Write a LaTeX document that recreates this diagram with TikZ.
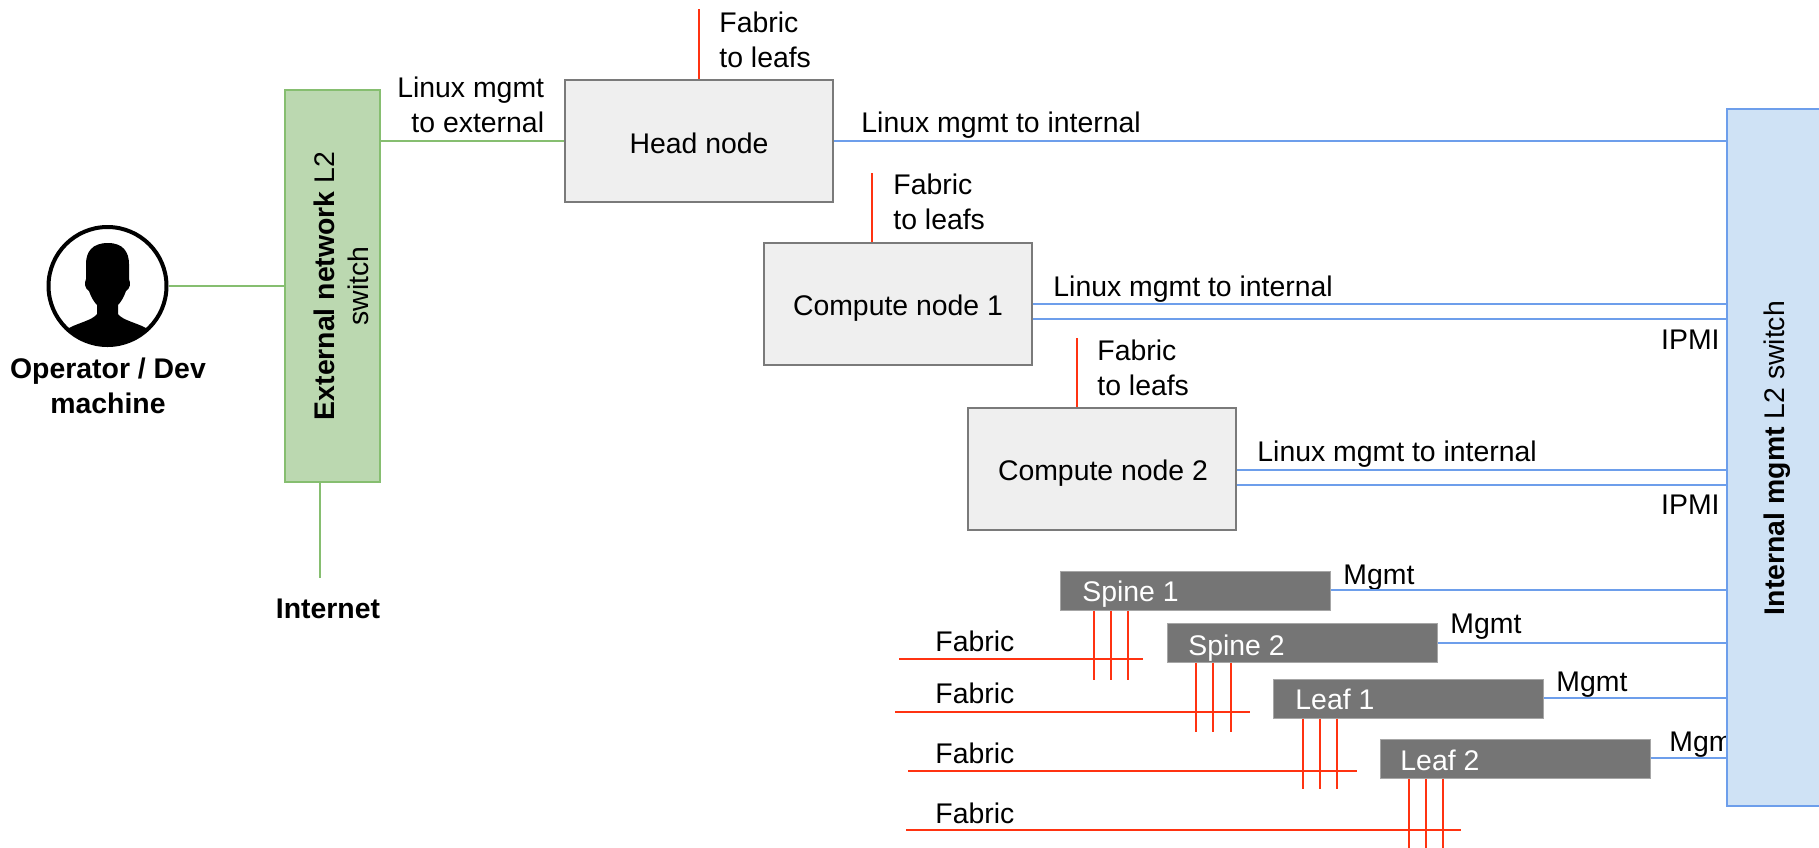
\documentclass[tikz,border=0pt]{standalone}
\usepackage{fontspec}
\setmainfont{Liberation Sans}
\definecolor{gline}{HTML}{86BE70}
\definecolor{gfill}{HTML}{BBD8B0}
\definecolor{bline}{HTML}{6D9EEB}
\definecolor{bfill}{HTML}{CFE2F5}
\definecolor{rline}{HTML}{FF3311}
\definecolor{nfill}{HTML}{EFEFEF}
\definecolor{nline}{HTML}{7A7A7A}
\definecolor{dfill}{HTML}{757575}
\tikzset{
  x=0.5pt,y=-0.5pt,
  txt/.style={font=\fontsize{14.2pt}{17.2pt}\selectfont,inner sep=0pt,text=black},
  bold/.style={txt,font=\fontsize{14.2pt}{17.2pt}\selectfont\bfseries,align=center},
  hostbox/.style={draw=nline,fill=nfill,line width=1pt,minimum width=134pt,minimum height=61pt,inner sep=0pt},
  netbox/.style={draw=black!35,fill=dfill,line width=0.5pt,minimum width=135pt,minimum height=19.5pt,inner sep=0pt},
  netlabel/.style={txt,text=white,anchor=west},
  gwire/.style={draw=gline,line width=1.1pt},
  bwire/.style={draw=bline,line width=1.1pt},
  rwire/.style={draw=rline,line width=0.9pt},
  lft/.style={txt,anchor=west},
}
\begin{document}
\begin{tikzpicture}
\useasboundingbox (0,0) rectangle (1819,847);
\clip (0,0) rectangle (1819,847);
% boxes
\node[draw=gline,fill=gfill,line width=1pt,minimum width=47.5pt,minimum height=196pt,inner sep=0pt] (ext) at (332.5,286) {};
\node[hostbox] (head) at (699,141) {};
\node[hostbox] (c1) at (897.5,304) {};
\node[hostbox] (c2) at (1102,469) {};
\node[txt] at (699,143) {Head node};
\node[txt] at (898,308) {Compute node 1};
\node[txt] at (1103,473) {Compute node 2};
\node[netbox] (s1) at (1195.5,590.5) {};
\node[netbox] (s2) at (1302,642.5) {};
\node[netbox] (l1) at (1408.5,698.5) {};
\node[netbox] (l2) at (1515,758.5) {};
\node[netlabel] at (1082,594) {Spine 1};
\node[netlabel] at (1188,648) {Spine 2};
\node[netlabel] at (1262,699) [xshift=16.5pt] {Leaf 1};
\node[netlabel] at (1400,760) {Leaf 2};
% free ends
\coordinate (inet) at (320,578);
\coordinate (ht) at (699,9);
\coordinate (c1t) at (872,173);
\coordinate (c2t) at (1077,338);
% person icon
\coordinate (pc) at (107.5,286);
\begin{scope}
\clip (pc) circle[radius=58];
\fill[black] (108,243) .. controls (92,243) and (86,252) .. (86,264)
  -- (86,279) .. controls (84,283) and (85,289) .. (89,291)
  .. controls (91,297) and (94,302) .. (97,305)
  -- (97,314) .. controls (93,320) and (78,323) .. (69,328)
  -- (50,355) -- (165,355) -- (146,328)
  .. controls (137,323) and (122,320) .. (118,314)
  -- (118,305) .. controls (121,302) and (124,297) .. (126,291)
  .. controls (130,289) and (131,283) .. (129,279)
  -- (129,264) .. controls (129,252) and (123,243) .. (108,243) -- cycle;
\end{scope}
\node[circle,draw=black,line width=2pt,minimum size=59pt,inner sep=0pt] (op) at (pc) {};
\node[bold] at (108,386) {Operator / Dev\\machine};
% green
\draw[gwire] (op) -- (op -| ext.west);
\draw[gwire] (ext.east |- 0,141) -- (head.west |- 0,141);
\draw[gwire] (inet |- ext.south) -- (inet);
\node[bold] at (328,609) {Internet};
\node[txt,align=center,rotate=90] at (341.5,286) {\textbf{External network} L2\\switch};
\node[txt,align=right,anchor=east] at (544.5,105) {Linux mgmt\\to external};
% labels that the internal switch covers
\node[lft] at (1343,578) {Mgmt};
\node[lft] at (1450,627) {Mgmt};
\node[lft] at (1556,685) {Mgmt};
\node[lft] at (1669,745) {Mgmt};
% internal switch
\node[draw=bline,fill=bfill,line width=1pt,minimum width=55pt,minimum height=348.5pt,inner sep=0pt] (int) at (1782,457.5) {};
\node[txt,rotate=90] at (1777,458) {\textbf{Internal mgmt} L2 switch};
% blue wires
\draw[bwire] (head.east |- 0,141) -- (int.west |- 0,141);
\draw[bwire] (c1.east |- 0,304) -- (int.west |- 0,304);
\draw[bwire] (c1.east |- 0,319) -- (int.west |- 0,319);
\draw[bwire] (c2.east |- 0,470) -- (int.west |- 0,470);
\draw[bwire] (c2.east |- 0,485) -- (int.west |- 0,485);
\draw[bwire] (s1.east |- 0,590) -- (int.west |- 0,590);
\draw[bwire] (s2.east |- 0,643) -- (int.west |- 0,643);
\draw[bwire] (l1.east |- 0,698) -- (int.west |- 0,698);
\draw[bwire] (l2.east |- 0,758) -- (int.west |- 0,758);
\node[lft] at (861,125) {Linux mgmt to internal};
\node[lft] at (1053,289) {Linux mgmt to internal};
\node[lft] at (1257,454) {Linux mgmt to internal};
\node[txt,anchor=east] at (1720,340) {IPMI};
\node[txt,anchor=east] at (1720,505) {IPMI};
% red
\draw[rwire] (ht) -- (head.north -| ht);
\draw[rwire] (c1t) -- (c1.north -| c1t);
\draw[rwire] (c2t) -- (c2.north -| c2t);
\node[lft,align=left] at (719,40) {Fabric\\to leafs};
\node[lft,align=left] at (893,202) {Fabric\\to leafs};
\node[lft,align=left] at (1097,368) {Fabric\\to leafs};
\foreach \xa/\n/\yb in {1094/s1/680,1111/s1/680,1128/s1/680,1196/s2/732,1213/s2/732,1231/s2/732,1303/l1/789,1320/l1/789,1337/l1/789,1409/l2/850,1426/l2/850,1443/l2/850}
  \draw[rwire] (\n.south -| \xa,0) -- (\xa,\yb);
\foreach \xa/\xb/\yy/\ty in {899/1143/659/641,895/1250/712/693,908/1357/771/753,906/1461/830/813}{
  \draw[rwire,line width=1pt] (\xa,\yy) -- (\xb,\yy);
  \node[lft] at (935,\ty) {Fabric};
}
\end{tikzpicture}
\end{document}
